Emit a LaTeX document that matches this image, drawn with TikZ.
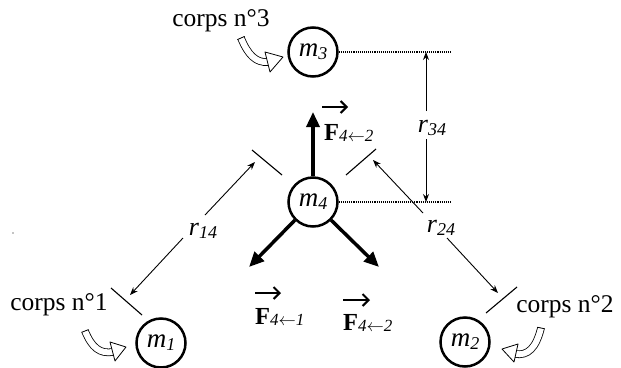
\documentclass[tikz,border=0pt]{standalone}
\usepackage{fontspec}
\setmainfont{Liberation Serif}
\usetikzlibrary{arrows.meta}
\newcommand\msub[2]{\textit{#1}\raisebox{-3pt}{\fontsize{18}{18}\selectfont\textit{#2}}}
\newcommand\flab[1]{\textbf{F}\raisebox{-1pt}{\fontsize{17}{17}\selectfont\textit{#1}}}
\begin{document}
\begin{tikzpicture}[x=1pt,y=-1pt,
  mass/.style={circle, draw, line width=2.5pt, minimum size=49pt, inner sep=0pt, font=\fontsize{27}{27}\selectfont},
  force/.style={line width=3.5pt, -{Triangle[length=15pt,width=13pt]}},
  thinarrow/.style={line width=0.9pt, -{Stealth[length=8pt,width=6pt]}},
  barline/.style={line width=1.1pt},
  dotline/.style={densely dotted, line width=1.1pt},
  lab/.style={font=\fontsize{25.5}{25.5}\selectfont, inner sep=0pt},
  rlab/.style={font=\fontsize{26}{26}\selectfont, inner sep=0pt},
  flabel/.style={font=\fontsize{24.5}{24.5}\selectfont, inner sep=0pt, anchor=base west},
  vecarrow/.style={line width=2pt, -{Straight Barb[length=6pt,width=12pt]}},
  hollow/.style={double=white, double distance=6pt, line width=0.8pt},
  hollowhead/.style={fill=white, draw, line width=0.8pt, line join=round}
]
\useasboundingbox (0,0) rectangle (621,367);

% masses
\node[mass] (m3) at (313,52) {\msub{m}{3}};
\node[mass] (m4) at (313,202) {\msub{m}{4}};
\node[mass] (m1) at (161,343) {\msub{m}{1}};
\node[mass] (m2) at (465,342) {\msub{m}{2}};

% corps labels
\node[lab] (c3) at (221,21) {corps n°3};
\node[lab] (c1) at (59,305) {corps n°1};
\node[lab] (c2) at (565,307) {corps n°2};

% hollow curved arrows
\draw[hollow] (241,38) .. controls (248,55) and (256,63) .. (268,62);
\draw[line width=0.8pt] (244.6,36.4) -- (237.4,39.6);
\draw[hollowhead] (265,52) -- (283,57) -- (270,72) -- cycle;

\draw[hollow] (85,331) .. controls (92,348) and (100,354) .. (113,352);
\draw[line width=0.8pt] (88.6,329.6) -- (81.4,332.4);
\draw[hollowhead] (110,342) -- (126,347) -- (115,361) -- cycle;

\draw[hollow] (541,328) .. controls (536,348) and (528,356) .. (515,354);
\draw[line width=0.8pt] (544.8,328.8) -- (537.2,327.2);
\draw[hollowhead] (518,344) -- (502,349) -- (514,362) -- cycle;

% dotted reference lines
\coordinate (d3) at (452,52);
\coordinate (d4) at (452,202);
\draw[dotline] (m3.east) -- (d3);
\draw[dotline] (m4.east) -- (d4);

% r34
\node[rlab] (r34) at (432,128) {\textit{r}\raisebox{-3pt}{\fontsize{18}{18}\selectfont\textit{34}}};
\coordinate (r34t) at (426,52);
\coordinate (r34b) at (426,202);
\coordinate (r34u) at (426,111);
\coordinate (r34l) at (426,139);
\draw[thinarrow] (r34u) -- (r34t);
\draw[thinarrow] (r34l) -- (r34b);

% r14
\coordinate (b14a) at (252,150);
\coordinate (b14b) at (282,175);
\coordinate (b14c) at (111,288);
\coordinate (b14d) at (142,315);
\draw[barline] (b14a) -- (b14b);
\draw[barline] (b14c) -- (b14d);
\node[rlab] (r14) at (203,231) {\textit{r}\raisebox{-3pt}{\fontsize{18}{18}\selectfont\textit{14}}};
\coordinate (t14a) at (255,162);
\coordinate (t14b) at (130,295);
\coordinate (s14a) at (205,215);
\coordinate (s14b) at (183,238);
\draw[thinarrow] (s14a) -- (t14a);
\draw[thinarrow] (s14b) -- (t14b);

% r24
\coordinate (b24a) at (346,175);
\coordinate (b24b) at (376,149);
\coordinate (b24c) at (486,313);
\coordinate (b24d) at (517,287);
\draw[barline] (b24a) -- (b24b);
\draw[barline] (b24c) -- (b24d);
\node[rlab] (r24) at (441,228) {\textit{r}\raisebox{-3pt}{\fontsize{18}{18}\selectfont\textit{24}}};
\coordinate (t24a) at (373,160);
\coordinate (t24b) at (498,293);
\coordinate (s24a) at (423,213);
\coordinate (s24b) at (447,238);
\draw[thinarrow] (s24a) -- (t24a);
\draw[thinarrow] (s24b) -- (t24b);

% forces
\coordinate (fu) at (313,112);
\coordinate (fl) at (249,267);
\coordinate (fr) at (379,267);
\draw[force] (m4.north) -- (fu);
\draw[force] (m4.south west) -- (fl);
\draw[force] (m4.south east) -- (fr);

% force labels
\node[flabel] (F3) at (324,140) {\flab{4$\leftarrow$2}};
\coordinate (v3a) at (322,107);
\coordinate (v3b) at (348,107);
\draw[vecarrow] (v3a) -- (v3b);
\node[flabel] (F1) at (255,324) {\flab{4$\leftarrow$1}};
\coordinate (v1a) at (255,293);
\coordinate (v1b) at (281,293);
\draw[vecarrow] (v1a) -- (v1b);
\node[flabel] (F2) at (343,330) {\flab{4$\leftarrow$2}};
\coordinate (v2a) at (343,300);
\coordinate (v2b) at (370,300);
\draw[vecarrow] (v2a) -- (v2b);

% stray dot
\fill (13,233) circle (0.7pt);
\end{tikzpicture}
\end{document}
